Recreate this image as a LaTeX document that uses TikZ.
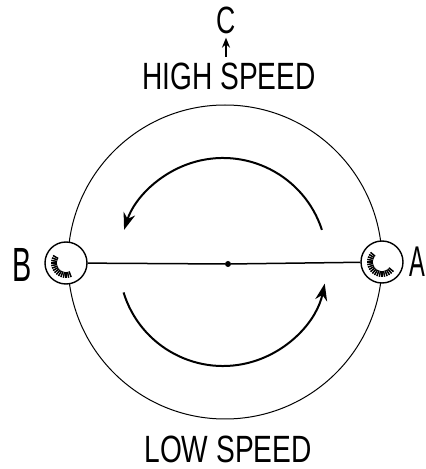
\documentclass[tikz,border=0pt]{standalone}
\usepackage{fontspec}
\setmainfont{Liberation Sans}
\usetikzlibrary{arrows.meta,positioning}

\begin{document}
\begin{tikzpicture}[x=1pt, y=1pt,
  lbl/.style={font=\fontsize{38}{40}\selectfont, inner sep=0pt},
  ball/.style={circle, draw, line width=1.4pt, fill=white, minimum size=42pt, inner sep=0pt},
  hatch/.style={line width=1.5pt},
  rod/.style={line width=1.5pt},
  turn/.style={line width=2pt, -{Stealth[length=17pt,width=12pt]}}
]
\useasboundingbox (0,0) rectangle (426,469);

% Wheel and hub
\node[circle, draw, line width=1pt, minimum size=314pt, inner sep=0pt] (wheel) at (225,207) {};
\node[circle, fill, minimum size=6pt, inner sep=0pt] (hub) at (228,205) {};
\coordinate (axis) at (223,207);

% Balls on the rod
\node[ball] (ballB) at (66,206) {};
\node[ball] (ballA) at (382,207) {};
\foreach \a in {150,160,...,290}
  \draw[hatch] ([shift={(\a:9pt)}]ballB.center) -- ([shift={(\a:15pt)}]ballB.center);
\foreach \a in {140,150,...,320}
  \draw[hatch] ([shift={(\a:9pt)}]ballA.center) -- ([shift={(\a:15pt)}]ballA.center);
\draw[rod] (ballB) -- (hub) -- (ballA);

% Sense of rotation
\draw[turn] ([shift={(18:104pt)}]axis) arc[start angle=18, end angle=162, radius=104pt];
\draw[turn] ([shift={(197:104pt)}]axis) arc[start angle=197, end angle=348, radius=104pt];

% Labels
\node[lbl] (high) at (229,393) {\scalebox{0.74}[1]{HIGH SPEED}};
\node[lbl] (low) at (228,20) {\scalebox{0.74}[1]{LOW SPEED}};
\node[lbl] (C) at (226,449) {\scalebox{0.7}[1]{C}};
\node[lbl, font=\fontsize{48}{50}\selectfont] (B) at (22,204) {\scalebox{0.6}[1]{B}};
\node[lbl, font=\fontsize{43}{45}\selectfont, anchor=east] (A) at (425,207) {\scalebox{0.55}[1]{A}};
\coordinate (cfoot) at (226,412);
\draw[line width=2pt, -{Stealth[length=10pt,width=8pt]}, shorten >=4pt] (cfoot) -- (C);

\end{tikzpicture}
\end{document}
